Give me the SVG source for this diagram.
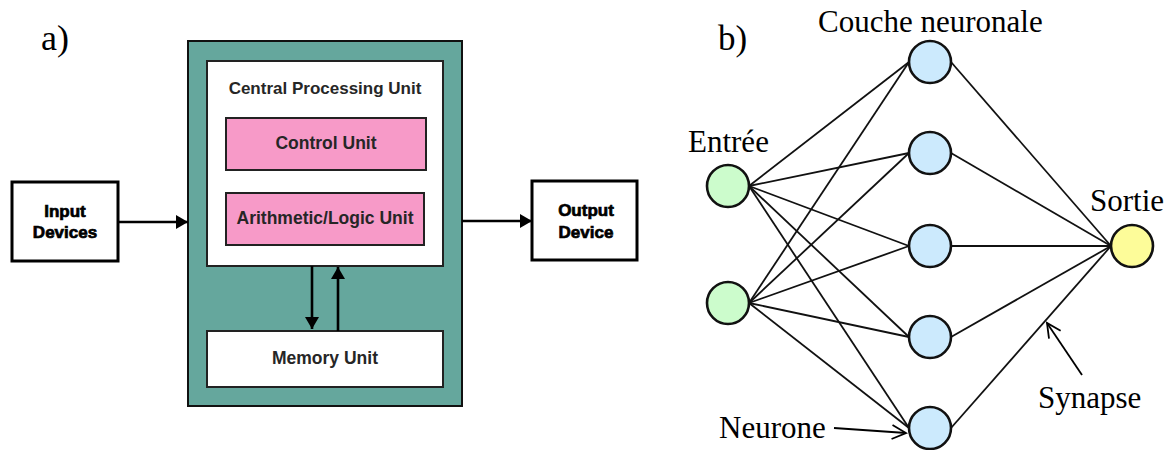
<svg xmlns="http://www.w3.org/2000/svg" width="1171" height="450" viewBox="0 0 1171 450">
<style>
.lbl{font-family:"Liberation Serif","Times New Roman",serif;fill:#000}
.box{font-family:"Liberation Sans",Arial,sans-serif;font-weight:bold;fill:#262626;text-anchor:middle}
.dev{font-family:"Liberation Sans",Arial,sans-serif;font-weight:900;fill:#000;text-anchor:middle;font-size:17px;stroke:#000;stroke-width:0.7}
.edge{stroke:#111;stroke-width:1.8;fill:none}
.conn{stroke:#000;stroke-width:2.6;fill:none}
.ptr{stroke:#000;stroke-width:1.8;fill:none}
</style>
<defs>
<marker id="fa" markerUnits="userSpaceOnUse" markerWidth="14" markerHeight="14" viewBox="0 0 12 14" refX="12" refY="7" orient="auto">
<path d="M0,0 L12,7 L0,14 z" fill="#000"/>
</marker>
<marker id="oa" markerUnits="userSpaceOnUse" markerWidth="18" markerHeight="18" viewBox="0 0 18 18" refX="16" refY="9" orient="auto">
<path d="M2,2 L16,9 L2,16" fill="none" stroke="#000" stroke-width="1.8"/>
</marker>
</defs>

<text class="lbl" x="41" y="50" font-size="36">a)</text>
<text class="lbl" x="718" y="50" font-size="35">b)</text>

<g id="cpu-outer">
<rect x="188" y="41" width="274" height="365" fill="#65a79d" stroke="#111" stroke-width="2"/>
</g>
<g id="cpu">
<rect x="207" y="61" width="236" height="205" fill="#fff" stroke="#222" stroke-width="2"/>
<text class="box" x="325" y="94" font-size="17">Central Processing Unit</text>
</g>
<g id="control-unit">
<rect x="226" y="118" width="200" height="52" fill="#f79ac8" stroke="#222" stroke-width="2"/>
<text class="box" x="326" y="149" font-size="17.5">Control Unit</text>
</g>
<g id="alu">
<rect x="226" y="193" width="198" height="52" fill="#f79ac8" stroke="#222" stroke-width="2"/>
<text class="box" x="325" y="224" font-size="17.5">Arithmetic/Logic Unit</text>
</g>
<g id="memory-unit">
<rect x="207" y="331" width="236" height="56" fill="#fff" stroke="#222" stroke-width="2"/>
<text class="box" x="325" y="364" font-size="17.5">Memory Unit</text>
</g>
<g id="input-devices">
<rect x="12" y="182" width="106" height="79" fill="#fff" stroke="#000" stroke-width="3"/>
<text class="dev" x="65" y="217">Input</text>
<text class="dev" x="65" y="238">Devices</text>
</g>
<g id="output-device">
<rect x="532" y="181" width="105" height="79" fill="#fff" stroke="#000" stroke-width="3"/>
<text class="dev" x="586" y="216">Output</text>
<text class="dev" x="586" y="238">Device</text>
</g>

<g id="connectors-a">
<line class="conn" x1="119" y1="222" x2="188" y2="222" marker-end="url(#fa)"/>
<line class="conn" x1="462" y1="221" x2="532" y2="221" marker-end="url(#fa)"/>
<line class="conn" x1="312" y1="266" x2="312" y2="329" marker-end="url(#fa)"/>
<line class="conn" x1="338" y1="331" x2="338" y2="267" marker-end="url(#fa)"/>
</g>

<g id="connectors-b">
<line class="edge" x1="749" y1="186" x2="909" y2="62"/>
<line class="edge" x1="749" y1="186" x2="909" y2="153"/>
<line class="edge" x1="749" y1="186" x2="909" y2="246"/>
<line class="edge" x1="749" y1="186" x2="909" y2="337"/>
<line class="edge" x1="749" y1="186" x2="909" y2="428"/>
<line class="edge" x1="749" y1="303" x2="909" y2="62"/>
<line class="edge" x1="749" y1="303" x2="909" y2="153"/>
<line class="edge" x1="749" y1="303" x2="909" y2="246"/>
<line class="edge" x1="749" y1="303" x2="909" y2="337"/>
<line class="edge" x1="749" y1="303" x2="909" y2="428"/>
<line class="edge" x1="951" y1="62" x2="1111" y2="246"/>
<line class="edge" x1="951" y1="153" x2="1111" y2="246"/>
<line class="edge" x1="951" y1="246" x2="1111" y2="246"/>
<line class="edge" x1="951" y1="337" x2="1111" y2="246"/>
<line class="edge" x1="951" y1="428" x2="1111" y2="246"/>
<line class="ptr" x1="834" y1="428" x2="906" y2="433" marker-end="url(#oa)"/>
<line class="ptr" x1="1082" y1="375" x2="1047" y2="323" marker-end="url(#oa)"/>
</g>

<g id="input-1"><circle cx="728" cy="186" r="21" fill="#ccfccc" stroke="#111" stroke-width="2.6"/></g>
<g id="input-2"><circle cx="728" cy="303" r="21" fill="#ccfccc" stroke="#111" stroke-width="2.6"/></g>
<g id="hidden-1"><circle cx="930" cy="62" r="21" fill="#cceafd" stroke="#111" stroke-width="2.6"/></g>
<g id="hidden-2"><circle cx="930" cy="153" r="21" fill="#cceafd" stroke="#111" stroke-width="2.6"/></g>
<g id="hidden-3"><circle cx="930" cy="246" r="21" fill="#cceafd" stroke="#111" stroke-width="2.6"/></g>
<g id="hidden-4"><circle cx="930" cy="337" r="21" fill="#cceafd" stroke="#111" stroke-width="2.6"/></g>
<g id="hidden-5"><circle cx="930" cy="428" r="21" fill="#cceafd" stroke="#111" stroke-width="2.6"/></g>
<g id="output"><circle cx="1132" cy="246" r="21" fill="#fdfc99" stroke="#111" stroke-width="2.6"/></g>

<text class="lbl" x="818" y="32" font-size="31">Couche neuronale</text>
<text class="lbl" x="688" y="152" font-size="31">Entrée</text>
<text class="lbl" x="1090" y="211" font-size="31">Sortie</text>
<text class="lbl" x="1038" y="408" font-size="31">Synapse</text>
<text class="lbl" x="719" y="438" font-size="31">Neurone</text>
</svg>
